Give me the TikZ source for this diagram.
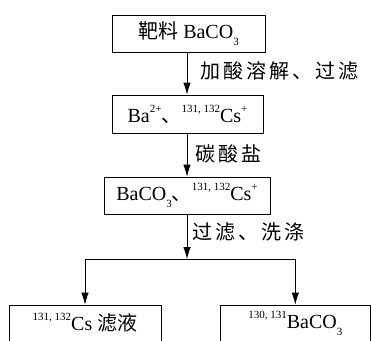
\documentclass[tikz,border=0pt]{standalone}
\usepackage{fontspec}
\setmainfont{Liberation Serif}
\newfontfamily\cjk{Noto Sans CJK SC}
\newfontfamily\cjkw[LetterSpace=15]{Noto Sans CJK SC}
\usetikzlibrary{arrows.meta}
\newcommand\sups[1]{\raisebox{0.5em}{\fontsize{11}{12}\selectfont #1}}
\newcommand\subs[1]{\raisebox{-0.35em}{\fontsize{11}{12}\selectfont #1}}
\begin{document}
\begin{tikzpicture}[x=1pt,y=-1pt,
  box/.style={draw, line width=0.8pt, inner sep=0pt, font=\fontsize{20}{22}\selectfont},
  arr/.style={draw, line width=0.8pt, -{Latex[length=12pt,width=7.5pt]}},
  lbl/.style={anchor=west, inner sep=0pt, font=\fontsize{20}{22}\selectfont\cjkw}]
\useasboundingbox (0,0) rectangle (371,340);
\clip (0,0) rectangle (371,340);
\node[box, minimum width=153pt, minimum height=37pt] (b1) at (188.5,33.5) {{\cjk 靶料} BaCO\subs{3}};
\node[box, minimum width=151pt, minimum height=38pt] (b2) at (187.5,114) {Ba\sups{2+}{\cjk 、}\sups{131, 132}Cs\sups{+}};
\node[box, minimum width=166pt, minimum height=37pt] (b3) at (187,195.5) {BaCO\subs{3}{\cjk 、}\sups{131, 132}Cs\sups{+}};
\node[box, minimum width=152pt, minimum height=36pt] (b4) at (85,323) {\sups{131, 132}Cs {\cjk 滤液}};
\node[box, minimum width=150pt, minimum height=36pt] (b5) at (295.3,323) {\sups{130, 131}BaCO\subs{3}};
\coordinate (j) at (187,259);
\draw[arr] (b1.south -| j) -- (b2.north -| j);
\draw[arr] (b2.south -| j) -- (b3.north -| j);
\draw[arr] (b3.south -| j) -- (j);
\draw[arr] (j) -| (b4.north);
\draw[arr] (j) -| (b5.north);
\node[lbl] (l1) at (200,71) {加酸溶解、过滤};
\node[lbl] (l2) at (195,153.5) {碳酸盐};
\node[lbl] (l3) at (192,231.5) {过滤、洗涤};
\end{tikzpicture}
\end{document}
